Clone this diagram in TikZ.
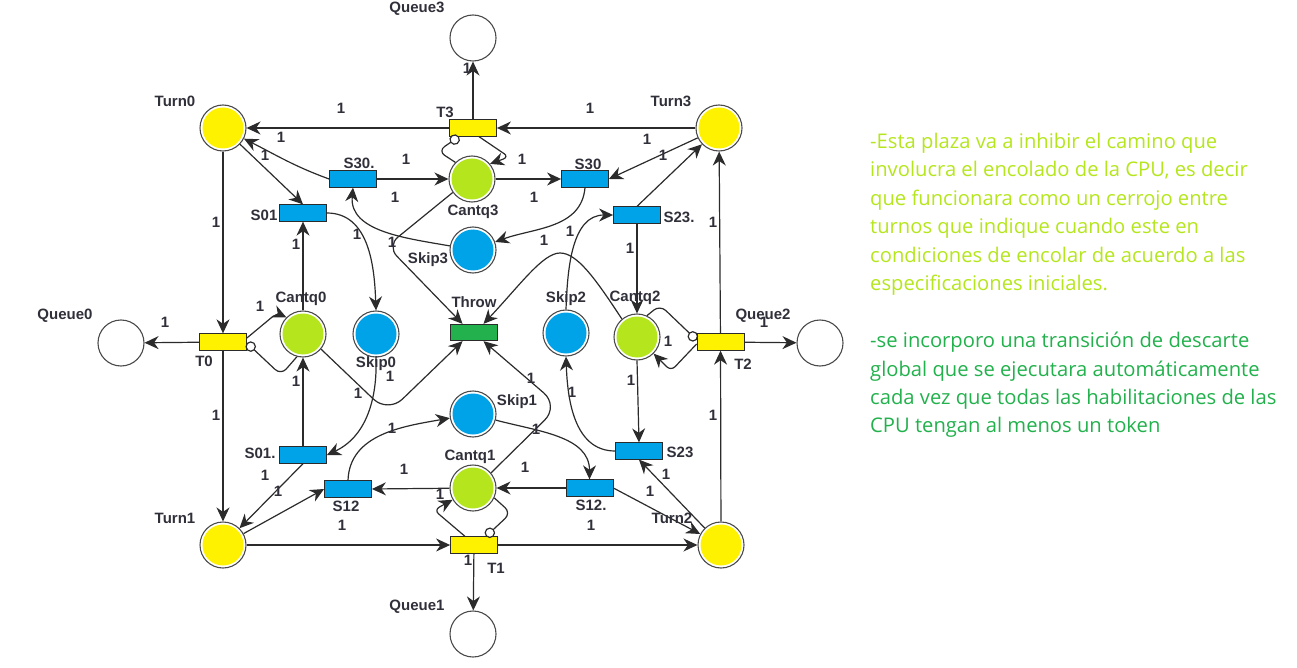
\documentclass[tikz,border=0pt]{standalone}
\usepackage{fontspec}
\setmainfont{Liberation Sans}
\newfontfamily\notefont{Open Sans}
\usetikzlibrary{arrows.meta}
\definecolor{turnyellow}{HTML}{FFF200}
\definecolor{cantgreen}{HTML}{B5E61D}
\definecolor{skipblue}{HTML}{00A2E8}
\definecolor{throwgreen}{HTML}{22B14C}
\definecolor{edgegray}{HTML}{2B2B2B}
\definecolor{labelgray}{HTML}{30303A}
\tikzset{
  place/.style={circle,draw=edgegray!85,line width=1.1pt,fill=white,minimum size=46pt,inner sep=0pt,
    path picture={\fill[#1] (path picture bounding box.center) circle (20.5pt);}},
  trans/.style={rectangle,draw=edgegray,line width=0.8pt,fill=#1,minimum width=47pt,minimum height=16.5pt,inner sep=0pt},
  arc/.style={draw=edgegray,line width=1.2pt,-{Stealth[length=14pt,width=13pt,inset=4.5pt]}},
  inh/.style={draw=edgegray,line width=1.2pt,-{Circle[length=10.5pt,width=10.5pt,fill=white]}},
  lbl/.style={font=\bfseries\fontsize{15}{15}\selectfont,text=labelgray,inner sep=0pt},
  note/.style={font=\notefont\fontsize{20.2}{28.4}\selectfont,align=left,anchor=north west,inner sep=0pt}
}
\begin{document}
\begin{tikzpicture}[x=1pt,y=1pt]
\useasboundingbox (0,0) rectangle (1297,-668);

\node[place=white] (Queue0) at (121,-343) {};
\node[place=white] (Queue1) at (473,-634) {};
\node[place=white] (Queue2) at (820,-343) {};
\node[place=white] (Queue3) at (473,-38) {};
\node[place=turnyellow] (Turn0) at (223,-128) {};
\node[place=turnyellow] (Turn1) at (223,-545) {};
\node[place=turnyellow] (Turn2) at (721,-545) {};
\node[place=turnyellow] (Turn3) at (719,-128) {};
\node[place=cantgreen] (Cantq0) at (303,-334) {};
\node[place=cantgreen] (Cantq1) at (473,-488) {};
\node[place=cantgreen] (Cantq2) at (637,-337) {};
\node[place=cantgreen] (Cantq3) at (472,-179) {};
\node[place=skipblue] (Skip0) at (376,-334) {};
\node[place=skipblue] (Skip1) at (473,-414) {};
\node[place=skipblue] (Skip2) at (566,-333) {};
\node[place=skipblue] (Skip3) at (473,-250) {};

\node[trans=turnyellow] (T0) at (223,-342) {};
\node[trans=turnyellow] (T1) at (474,-545) {};
\node[trans=turnyellow] (T2) at (720.5,-342) {};
\node[trans=turnyellow] (T3) at (473,-128) {};
\node[trans=throwgreen] (Throw) at (473.5,-332.5) {};
\node[trans=skipblue] (S01) at (303,-213) {};
\node[trans=skipblue] (S01b) at (303,-455) {};
\node[trans=skipblue] (S12) at (348,-489) {};
\node[trans=skipblue] (S12b) at (589.5,-488) {};
\node[trans=skipblue] (S23) at (639,-451) {};
\node[trans=skipblue] (S23b) at (637,-215) {};
\node[trans=skipblue] (S30) at (585,-179) {};
\node[trans=skipblue] (S30b) at (353,-179) {};

\draw[arc] (T3) -- (Queue3);
\draw[arc] (T3) -- (Turn0);
\draw[arc] (Turn3) -- (T3);
\draw[arc] (Turn0) -- (T0);
\draw[arc] (T0) -- (Queue0);
\draw[arc] (T0) -- (Turn1);
\draw[arc] (Turn1) -- (T1);
\draw[arc] (T1) -- (Turn2);
\draw[arc] (T1) -- (Queue1);
\draw[arc] (Turn2) -- (T2);
\draw[arc] (T2) -- (Queue2);
\draw[arc] (T2) -- (Turn3);

\draw[arc] (S30b.west) to[out=160,in=-27] (Turn0);
\draw[arc] (Turn0) -- (S01.north);
\draw[arc] (S30b.east) -- (Cantq3);
\draw[arc] (Cantq3) -- (S30.west);
\draw[arc] (S30.south) to[out=-95,in=20] (Skip3);
\draw[arc] (Skip3) to[out=170,in=-95] (S30b.south);
\draw[arc] (Turn3) -- (S30.east);
\draw[arc] (S23b.north) -- (Turn3);
\draw[arc] (Skip2.north) to[out=88,in=180] (S23b.west);
\draw[arc] (S23b.south) -- (Cantq2.north);
\draw[arc] (Cantq2.south) -- (S23.north);
\draw[arc] (S23.west) to[out=180,in=-88] (Skip2.south);
\draw[arc] (Turn2) -- (S23.south);
\draw[arc] (S12b.east) -- (Turn2);
\draw[arc] (S12b.west) -- (Cantq1);
\draw[arc] (Skip1) to[out=-15,in=90] (S12b.north);
\draw[arc] (S12.north) to[out=88,in=190] (Skip1);
\draw[arc] (Cantq1) -- (S12.east);
\draw[arc] (Turn1) -- (S12.west);
\draw[arc] (S01b.south) -- (Turn1);
\draw[arc] (S01b.north) -- (Cantq0.south);
\draw[arc] (Cantq0.north) -- (S01.south);
\draw[arc] (S01.east) to[out=0,in=92] (Skip0.north);
\draw[arc] (Skip0.south) to[out=-88,in=25] (S01b.east);

\draw[arc,rounded corners=14pt] (Cantq3.215) -- (387,-246) -- ([xshift=-11pt]Throw.north);
\draw[arc,rounded corners=20pt] (Cantq0.-40) -- (388,-413) -- ([xshift=-11pt]Throw.south);
\draw[arc,rounded corners=20pt] (Cantq1.40) -- (559,-406) -- ([xshift=10pt]Throw.south);
\draw[arc] (Cantq2.130) .. controls (595,-278) and (577,-253) .. (560,-253) .. controls (543,-253) and (520,-285) .. ([xshift=10pt]Throw.north);

\draw[arc,rounded corners=6pt] ([xshift=6pt]T3.south) -- (509,-157) -- (Cantq3.40);
\draw[inh,rounded corners=8pt] (Cantq3.135) -- (438,-151) -- ([xshift=-14pt]T3.south);
\draw[arc,rounded corners=5pt] ([yshift=4pt]T0.east) -- (277,-313) -- (Cantq0.135);
\draw[inh,rounded corners=8pt] (Cantq0.-105) -- (281,-375) -- ([yshift=-1pt]T0.east);
\draw[arc,rounded corners=6pt] ([xshift=-9pt]T1.north) -- (434,-510) -- (Cantq1.210);
\draw[inh,rounded corners=8pt] (Cantq1.-25) -- (511,-513) -- ([xshift=12pt]T1.north);
\draw[arc,rounded corners=6pt] ([yshift=-2pt]T2.west) -- (671,-371) -- (Cantq2.-45);
\draw[inh,rounded corners=8pt] (Cantq2.65) -- (660,-305) -- ([yshift=2pt]T2.west);

\node[lbl] (lQueue0) at (65,-316) {Queue0};
\node[lbl] (lQueue1) at (417,-607) {Queue1};
\node[lbl] (lQueue2) at (763,-316) {Queue2};
\node[lbl] (lQueue3) at (417,-9) {Queue3};
\node[lbl] (lTurn0) at (175,-101) {Turn0};
\node[lbl] (lTurn1) at (175,-518) {Turn1};
\node[lbl] (lTurn2) at (672,-518) {Turn2};
\node[lbl] (lTurn3) at (671,-101) {Turn3};
\node[lbl] (lCantq0) at (301,-299) {Cantq0};
\node[lbl] (lCantq1) at (470,-457) {Cantq1};
\node[lbl] (lCantq2) at (635,-298) {Cantq2};
\node[lbl] (lCantq3) at (473,-212) {Cantq3};
\node[lbl] (lSkip0) at (376,-364) {Skip0};
\node[lbl] (lSkip1) at (517,-402) {Skip1};
\node[lbl] (lSkip2) at (566,-299) {Skip2};
\node[lbl] (lSkip3) at (428,-260) {Skip3};
\node[lbl] (lT0) at (204,-361) {T0};
\node[lbl] (lT1) at (496,-568) {T1};
\node[lbl] (lT2) at (743,-364) {T2};
\node[lbl] (lT3) at (445,-112) {T3};
\node[lbl] (lThrow) at (474,-302) {Throw};
\node[lbl] (lS01) at (264,-215) {S01};
\node[lbl] (lS01b) at (260,-453) {S01.};
\node[lbl] (lS12) at (346,-506) {S12};
\node[lbl] (lS12b) at (591,-505) {S12.};
\node[lbl] (lS23) at (680,-452) {S23};
\node[lbl] (lS23b) at (679,-217) {S23.};
\node[lbl] (lS30) at (588,-164) {S30};
\node[lbl] (lS30b) at (359,-163) {S30.};

\node[lbl] (w1) at (341,-108) {1};
\node[lbl] (w2) at (467,-68) {1};
\node[lbl] (w3) at (281,-137) {1};
\node[lbl] (w4) at (265,-155) {1};
\node[lbl] (w5) at (406,-159) {1};
\node[lbl] (w6) at (395,-197) {1};
\node[lbl] (w7) at (216,-222) {1};
\node[lbl] (w8) at (296,-244) {1};
\node[lbl] (w9) at (357,-234) {1};
\node[lbl] (w10) at (392,-242) {1};
\node[lbl] (w11) at (260,-306) {1};
\node[lbl] (w12) at (590,-108) {1};
\node[lbl] (w13) at (647,-139) {1};
\node[lbl] (w14) at (663,-155) {1};
\node[lbl] (w15) at (522,-159) {1};
\node[lbl] (w16) at (534,-197) {1};
\node[lbl] (w17) at (544,-240) {1};
\node[lbl] (w18) at (570,-231) {1};
\node[lbl] (w19) at (630,-248) {1};
\node[lbl] (w20) at (713,-222) {1};
\node[lbl] (w21) at (668,-341) {1};
\node[lbl] (w22) at (764,-322) {1};
\node[lbl] (w23) at (631,-380) {1};
\node[lbl] (w24) at (165,-322) {1};
\node[lbl] (w25) at (390,-376) {1};
\node[lbl] (w26) at (358,-393) {1};
\node[lbl] (w27) at (296,-381) {1};
\node[lbl] (w28) at (216,-415) {1};
\node[lbl] (w29) at (265,-475) {1};
\node[lbl] (w30) at (278,-491) {1};
\node[lbl] (w31) at (392,-428) {1};
\node[lbl] (w32) at (404,-469) {1};
\node[lbl] (w33) at (440,-494) {1};
\node[lbl] (w34) at (342,-525) {1};
\node[lbl] (w35) at (531,-378) {1};
\node[lbl] (w36) at (536,-429) {1};
\node[lbl] (w37) at (525,-467) {1};
\node[lbl] (w38) at (572,-392) {1};
\node[lbl] (w40) at (713,-415) {1};
\node[lbl] (w41) at (666,-474) {1};
\node[lbl] (w42) at (650,-491) {1};
\node[lbl] (w43) at (591,-525) {1};
\node[lbl] (w44) at (468,-560) {1};

\node[note,text=cantgreen] (noteA) at (870,-133) {-Esta plaza va a inhibir el camino que\\involucra el encolado de la CPU, es decir\\que funcionara como un cerrojo entre\\turnos que indique cuando este en\\condiciones de encolar de acuerdo a las\\especificaciones iniciales.};
\node[note,text=throwgreen] (noteB) at (870,-332) {-se incorporo una transición de descarte\\global que se ejecutara automáticamente\\cada vez que todas las habilitaciones de las\\CPU tengan al menos un token};
\end{tikzpicture}
\end{document}
